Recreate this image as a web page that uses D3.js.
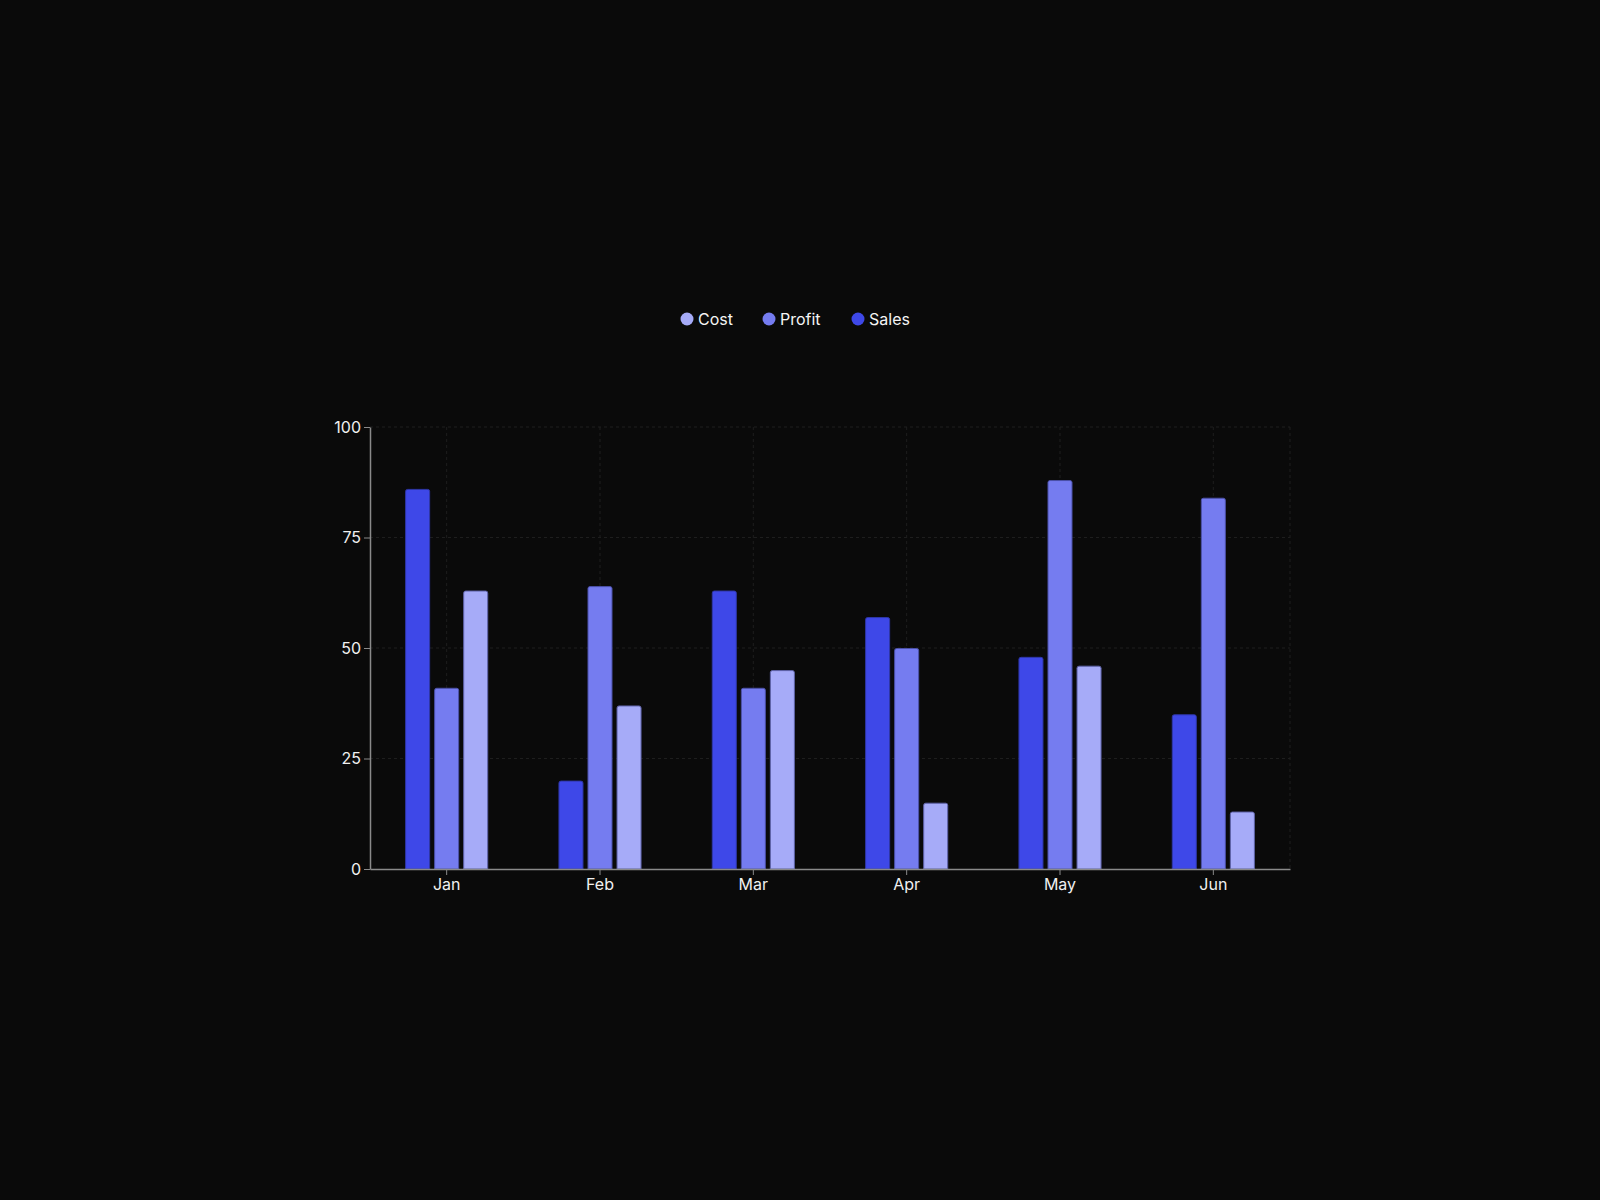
<!DOCTYPE html>
<html lang="en">
  <head>
    <meta charset="UTF-8" />
    <title>Sales, Profit and Cost</title>
    <style>
      html,
      body {
        margin: 0;
        padding: 0;
        background-color: #0a0a0a;
      }
      body {
        width: 1600px;
        height: 1200px;
        font-family: Inter, "Noto Sans", sans-serif;
      }
      .tick text {
        fill: #f0f0f0;
        font-size: 16px;
        font-family: Inter, "Noto Sans", sans-serif;
      }
      .legend text {
        fill: #f4f4f4;
        font-size: 16px;
      }
    </style>
  </head>
  <body>
    <svg id="chart" width="1600" height="1200"></svg>

    <script src="https://d3js.org/d3.v7.min.js"></script>
    <script>
      const months = ["Jan", "Feb", "Mar", "Apr", "May", "Jun"];
      const seriesNames = ["Sales", "Profit", "Cost"];
      const sales = [86, 20, 63, 57, 48, 35];
      const profit = [41, 64, 41, 50, 88, 84];
      const cost = [63, 37, 45, 15, 46, 13];
      const yTicks = [0, 25, 50, 75, 100];
      const legendOrder = ["Cost", "Profit", "Sales"];

      const colors = { Sales: "#3e48e8", Profit: "#757cf0", Cost: "#a6abf8" };
      const strokes = { Sales: "#2f37a8", Profit: "#4b50a8", Cost: "#5e62a8" };

      const values = { Sales: sales, Profit: profit, Cost: cost };
      const rows = months.map((m, i) => ({
        month: m,
        vals: seriesNames.map((s) => ({ key: s, value: values[s][i] })),
      }));

      const margin = { left: 370, right: 310, top: 427, bottom: 331 };
      const width = 1600 - margin.left - margin.right;
      const height = 1200 - margin.top - margin.bottom;

      const svg = d3.select("#chart");
      const g = svg
        .append("g")
        .attr("transform", `translate(${margin.left},${margin.top})`);

      const x0 = d3
        .scaleBand()
        .domain(months)
        .range([0, width])
        .paddingInner(0.458)
        .paddingOuter(0.229);
      const x1 = d3
        .scaleBand()
        .domain(seriesNames)
        .range([0, x0.bandwidth()])
        .paddingInner(0.138);
      const y = d3.scaleLinear().domain([0, 100]).range([height, 0]);

      // grid
      const grid = g.append("g").attr("stroke", "#1e1e1e").attr("stroke-dasharray", "3 3");
      grid
        .selectAll("line.h")
        .data(yTicks.filter((t) => t > 0))
        .enter()
        .append("line")
        .attr("x1", 0)
        .attr("x2", width)
        .attr("y1", (d) => y(d))
        .attr("y2", (d) => y(d));
      grid
        .selectAll("line.v")
        .data(months)
        .enter()
        .append("line")
        .attr("x1", (d) => x0(d) + x0.bandwidth() / 2)
        .attr("x2", (d) => x0(d) + x0.bandwidth() / 2)
        .attr("y1", 0)
        .attr("y2", height);
      grid
        .append("line")
        .attr("x1", width)
        .attr("x2", width)
        .attr("y1", 0)
        .attr("y2", height);

      // bars
      const groups = g
        .selectAll("g.group")
        .data(rows)
        .enter()
        .append("g")
        .attr("class", "group")
        .attr("transform", (d) => `translate(${x0(d.month)},0)`);

      groups
        .selectAll("path")
        .data((d) => d.vals)
        .enter()
        .append("path")
        .attr("d", (d) => {
          const bx = x1(d.key) + 0.5;
          const bw = x1.bandwidth() - 1;
          const by = y(d.value) + 0.5;
          const bh = height - by;
          const r = 2;
          return `M${bx},${by + bh}V${by + r}Q${bx},${by} ${bx + r},${by}H${bx + bw - r}Q${bx + bw},${by} ${bx + bw},${by + r}V${by + bh}Z`;
        })
        .attr("fill", (d) => colors[d.key])
        .attr("stroke", (d) => strokes[d.key])
        .attr("stroke-width", 1);

      // axes
      const xAxis = g
        .append("g")
        .attr("transform", `translate(0,${height})`)
        .call(d3.axisBottom(x0).tickSize(6).tickSizeOuter(0).tickPadding(4));
      const yAxis = g
        .append("g")
        .call(d3.axisLeft(y).tickValues(yTicks).tickSize(6).tickSizeOuter(0).tickPadding(3));
      [xAxis, yAxis].forEach((a) => {
        a.select(".domain").attr("stroke", "#8a8a8a").attr("stroke-width", 1.5);
        a.selectAll(".tick line").attr("stroke", "#8a8a8a");
        a.attr("font-family", null).attr("font-size", null);
      });

      // legend
      const legend = svg.append("g").attr("class", "legend").attr("transform", "translate(0,319)");
      const legendX = [687, 769, 858];
      const items = legend
        .selectAll("g")
        .data(legendOrder)
        .enter()
        .append("g")
        .attr("transform", (d, i) => `translate(${legendX[i]},0)`);
      items.append("circle").attr("r", 6.5).attr("fill", (d) => colors[d]);
      items
        .append("text")
        .attr("x", 11)
        .attr("dy", "0.35em")
        .text((d) => d);
    </script>
  </body>
</html>
